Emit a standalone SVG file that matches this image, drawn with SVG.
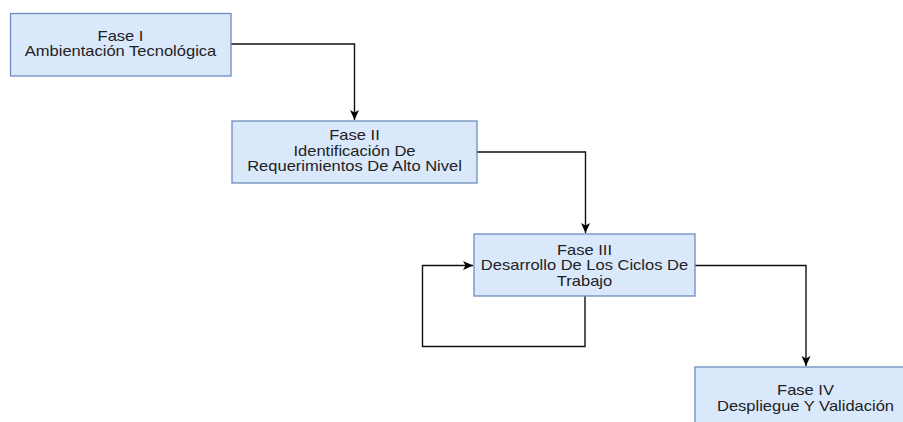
<svg xmlns="http://www.w3.org/2000/svg" width="903" height="422" viewBox="0 0 903 422">
<style>
.box{fill:#dae8fc;stroke:#6c8ebf;stroke-width:1.3}
.t{font-family:"Liberation Sans",Arial,sans-serif;font-size:14px;fill:#222;text-anchor:middle}
.c{fill:none;stroke:#111;stroke-width:1.4}
</style>
<defs>
<marker id="ar" markerUnits="userSpaceOnUse" markerWidth="12" markerHeight="12" viewBox="0 0 12 12" refX="11" refY="6" orient="auto">
<path d="M1,1.5 L11,6 L1,10.5 L3.5,6 Z" fill="#000"/>
</marker>
</defs>
<rect width="903" height="422" fill="#fff"/>
<g id="connectors">
<path class="c" d="M231,44 H354.5 V120" marker-end="url(#ar)"/>
<path class="c" d="M477,152 H585.5 V233" marker-end="url(#ar)"/>
<path class="c" d="M585,296 V346.5 H422.5 V265.5 H473" marker-end="url(#ar)"/>
<path class="c" d="M695,265.5 H806 V366" marker-end="url(#ar)"/>
</g>
<g id="fase1">
<rect class="box" x="10.5" y="13.5" width="220.5" height="62.5"/>
<text class="t" transform="translate(120.5,41) scale(1.18,1)">Fase I</text>
<text class="t" transform="translate(120.5,56) scale(1.18,1)">Ambientación Tecnológica</text>
</g>
<g id="fase2">
<rect class="box" x="232" y="121" width="245" height="62"/>
<text class="t" transform="translate(354.5,140) scale(1.18,1)">Fase II</text>
<text class="t" transform="translate(354.5,155.5) scale(1.18,1)">Identificación De</text>
<text class="t" transform="translate(354.5,171) scale(1.18,1)">Requerimientos De Alto Nivel</text>
</g>
<g id="fase3">
<rect class="box" x="474" y="234" width="221" height="62"/>
<text class="t" transform="translate(584.5,254.5) scale(1.18,1)">Fase III</text>
<text class="t" transform="translate(584.5,270) scale(1.18,1)">Desarrollo De Los Ciclos De</text>
<text class="t" transform="translate(584.5,285.5) scale(1.18,1)">Trabajo</text>
</g>
<g id="fase4">
<rect class="box" x="695" y="367" width="221" height="62"/>
<text class="t" transform="translate(805.5,395) scale(1.18,1)">Fase IV</text>
<text class="t" transform="translate(805.5,410.5) scale(1.18,1)">Despliegue Y Validación</text>
</g>
</svg>
